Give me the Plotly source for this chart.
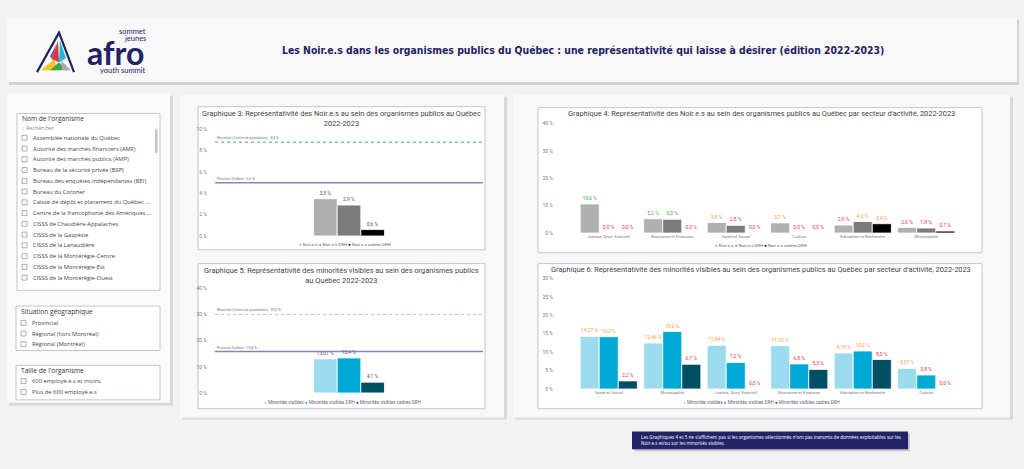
import plotly.graph_objects as go

W, H = 1024, 469
FONT = "Roboto"
UI_FONT = "Open Sans"

# ---------- data ----------
G3_SERIES = ["Noir.e.s", "Noir.e.s DRH", "Noir.e.s cadres DRH"]
G3_VALUES = [3.5, 2.9, 0.6]
NOIRS_MTL = 8.8
NOIRS_PROV = 5.0

G5_SERIES = ["Minorités visibles", "Minorités visibles DRH", "Minorités visibles cadres DRH"]
G5_VALUES = [13.01, 13.4, 4.1]
MV_MTL = 30.0
MV_PROV = 15.8

G4_SECTORS = ["Justice, Droit, Exécutif", "Économie et Finances", "Santé et Social",
              "Culture", "Éducation et Recherche", "Municipalité"]
G4_NOIRS = [10.6, 5.2, 3.8, 3.7, 2.9, 2.0]
G4_NOIRS_DRH = [0.0, 5.0, 2.8, 0.0, 4.2, 1.8]
G4_NOIRS_CADRES = [0.0, 0.0, 0.0, 0.0, 3.4, 0.7]

G6_SECTORS = ["Santé et Social", "Municipalité", "Justice, Droit, Exécutif",
              "Économie et Finances", "Éducation et Recherche", "Culture"]
G6_MV = [14.27, 12.46, 11.84, 11.76, 9.79, 5.57]
G6_MV_DRH = [14.2, 15.6, 7.2, 6.8, 10.3, 3.8]
G6_MV_CADRES = [2.2, 6.7, 0.0, 5.3, 8.0, 0.0]

ORGANISMES = [
    "Assemblée nationale du Québec",
    "Autorité des marchés financiers (AMF)",
    "Autorité des marchés publics (AMP)",
    "Bureau de la sécurité privée (BSP)",
    "Bureau des enquêtes indépendantes (BEI)",
    "Bureau du Coroner",
    "Caisse de dépôt et placement du Québec ...",
    "Centre de la francophonie des Amériques ...",
    "CISSS de Chaudière-Appalaches",
    "CISSS de la Gaspésie",
    "CISSS de la Lanaudière",
    "CISSS de la Montérégie-Centre",
    "CISSS de la Montérégie-Est",
    "CISSS de la Montérégie-Ouest",
]
SITUATIONS = ["Provincial", "Régional (hors Montréal)", "Régional (Montréal)"]
TAILLES = ["600 employé.e.s et moins", "Plus de 600 employé.e.s"]

TITLE = ("Les Noir.e.s dans les organismes publics du Québec : une représentativité "
         "qui laisse à désirer (édition 2022-2023)")
NOTE = ("Les Graphiques 4 et 5 ne s'affichent pas si les organismes sélectionnés n'ont pas "
        "transmis de données exploitables sur les<br>Noir.e.s et/ou sur les minorités visibles.")

# ---------- colours ----------
GREYS = ["#b0b0b0", "#7b7b7b", "#000000"]
BLUES = ["#9cdbee", "#00a9d3", "#004f66"]
GREEN, ORANGE, RED = "#3db54a", "#ff9a3d", "#e8354f"
NAVY = "#1f2263"


def px(x):
    return x / W


def py(y):
    return 1 - y / H


shapes = []
annotations = []


def rect(x0, y0, x1, y1, fill, line=None, width=1):
    shapes.append(dict(type="rect", xref="paper", yref="paper",
                       x0=px(x0), x1=px(x1), y0=py(y1), y1=py(y0),
                       fillcolor=fill, layer="below",
                       line=dict(color=line or fill, width=width if line else 0)))


def poly(points, fill):
    path = "M " + " L ".join(f"{px(x)},{py(y)}" for x, y in points) + " Z"
    shapes.append(dict(type="path", xref="paper", yref="paper", path=path,
                       fillcolor=fill, line=dict(width=0)))


def text(x, y, s, size, color="#333", xanchor="left", yanchor="middle", family=FONT, align="left"):
    annotations.append(dict(xref="paper", yref="paper", x=px(x), y=py(y), text=s,
                            showarrow=False, xanchor=xanchor, yanchor=yanchor, align=align,
                            font=dict(size=size, color=color, family=family)))


def pct(v, d=1):
    return f"{v:.{d}f}".replace(".", ",") + " %"


def level_colors(values, green_at, orange_at):
    return [GREEN if v >= green_at else ORANGE if v >= orange_at else RED for v in values]


# ---------- panels ----------
rect(9, 17, 1019, 83, "#d2d2d2")
rect(7, 15, 1017, 80, "#f8f8f8")
rect(9, 94, 173, 408, "#d8d8d8")
rect(7, 92, 170, 405, "#fafafa")
rect(182, 95, 507, 422, "#d8d8d8")
rect(180, 93, 504, 420, "#f8f8f8")
rect(515, 95, 1013, 422, "#d8d8d8")
rect(513, 93, 1010, 420, "#f8f8f8")

BOX = "#c3c3dc"
rect(198, 105, 485, 250, "white", BOX)
rect(198, 264, 485, 411, "white", BOX)
rect(538, 106, 982, 253, "white", BOX)
rect(538, 264, 982, 411, "white", BOX)

# note box
rect(634, 436, 910, 454, "#c8c8c8")
rect(632, 434, 908, 452, "#232367")
text(639, 443, NOTE, 4.6, "white", family=UI_FONT)

# ---------- logo + title ----------
poly([(41, 68), (54, 57), (58, 68)], "#f7c325")
poly([(50, 68), (59, 60), (67, 68)], "#3aa64a")
poly([(61, 58), (71, 68), (62, 68)], "#a7aab2")
poly([(58, 38), (52, 57), (59, 60)], "#e3343c")
poly([(60, 38), (59, 60), (66, 56)], "#20b9d8")
poly([(57, 41), (50, 54), (52, 57)], "#7a4aa0")
shapes.append(dict(type="path", xref="paper", yref="paper",
                   path=f"M {px(37)},{py(70)} L {px(59)},{py(30)} L {px(74)},{py(70)}",
                   line=dict(color=NAVY, width=2.2)))
text(115.5, 50.5, "<b>afro</b>", 32, NAVY, xanchor="center", family="Lato")
text(148, 29, "sommet", 7.5, NAVY, xanchor="right", family="Lato")
text(148, 35.5, "jeunes", 7.5, NAVY, xanchor="right", family="Lato")
text(148, 68, "youth summit", 7.5, NAVY, xanchor="right", family="Lato")
text(583, 48, f"<b>{TITLE}</b>", 10.4, NAVY, xanchor="center",
     family="Liberation Sans Narrow, DejaVu Sans Condensed, Roboto")

# ---------- filter slicers ----------
CHK = "#8a8a8a"


def checkbox(x, y):
    shapes.append(dict(type="rect", xref="paper", yref="paper",
                       x0=px(x), x1=px(x + 5), y0=py(y + 2.5), y1=py(y - 2.5),
                       fillcolor="white", line=dict(color=CHK, width=0.7)))


rect(17, 112, 160, 291, "white", BOX)
text(20, 117.5, "Nom de l'organisme", 6.6, "#333", family=UI_FONT)
text(20, 126.5, "⌕ Rechercher", 5.2, "#888", family=UI_FONT)
rect(155, 128, 157.5, 152, "#c4c4c4")
for i, name in enumerate(ORGANISMES):
    yy = 136.5 + i * 10.9
    checkbox(22, yy)
    text(31, yy, name, 5.8, "#444", family=UI_FONT)

rect(16, 307, 160, 352, "white", BOX)
text(19, 313, "Situation géographique", 6.6, "#333", family=UI_FONT)
for i, name in enumerate(SITUATIONS):
    yy = 324 + i * 10.8
    checkbox(21, yy)
    text(30, yy, name, 5.8, "#444", family=UI_FONT)

rect(16, 367, 160, 402, "white", BOX)
text(19, 372.5, "Taille de l'organisme", 6.6, "#333", family=UI_FONT)
for i, name in enumerate(TAILLES):
    yy = 383 + i * 11
    checkbox(21, yy)
    text(30, yy, name, 5.8, "#444", family=UI_FONT)

# ---------- charts ----------
fig = go.Figure()


def add_bars(x, values, name, color, xa, ya, digits, label_colors):
    fig.add_trace(go.Bar(
        x=x, y=values, name=name, xaxis=xa, yaxis=ya,
        marker=dict(color=color, line=dict(color="white", width=0.8)),
        texttemplate="%{y:." + str(digits) + "f} %", textposition="outside",
        textfont=dict(size=5, color=label_colors, family=FONT),
        constraintext="none", cliponaxis=False, showlegend=False, hoverinfo="skip",
    ))


# Graphique 3
for name, v, c in zip(G3_SERIES, G3_VALUES, GREYS):
    add_bars(["Total"], [v], name, c, "x", "y", 1, "#555")
# Graphique 4
for vals, name, c in zip([G4_NOIRS, G4_NOIRS_DRH, G4_NOIRS_CADRES], G3_SERIES, GREYS):
    add_bars(G4_SECTORS, vals, name, c, "x2", "y2", 1, level_colors(vals, NOIRS_PROV, 3.0))
# Graphique 5
for name, v, c, d in zip(G5_SERIES, G5_VALUES, BLUES, [2, 1, 1]):
    add_bars(["Total"], [v], name, c, "x3", "y3", d, "#555")
# Graphique 6
for vals, name, c, d, oa in zip([G6_MV, G6_MV_DRH, G6_MV_CADRES], G5_SERIES, BLUES,
                                [2, 1, 1], [5.0, 9.0, 9.0]):
    add_bars(G6_SECTORS, vals, name, c, "x4", "y4", d, level_colors(vals, MV_PROV, oa))

# reference lines
for xd, ya, mtl, prov, mtl_col in [("x domain", "y", NOIRS_MTL, NOIRS_PROV, "#3cb54c"),
                                   ("x3 domain", "y3", MV_MTL, MV_PROV, "#a3dca6")]:
    shapes.append(dict(type="line", xref=xd, yref=ya, x0=0, x1=1, y0=mtl, y1=mtl,
                       line=dict(color=mtl_col, width=1, dash="dot")))
    shapes.append(dict(type="line", xref=xd, yref=ya, x0=0, x1=1, y0=prov, y1=prov,
                       line=dict(color="#8585b5", width=1.5)))
    annotations.append(dict(xref=xd, yref=ya, x=0, y=mtl, yshift=4, xanchor="left",
                            yanchor="middle", showarrow=False,
                            text=f"Montréal (Centre de population) : {pct(mtl)}",
                            font=dict(size=3.6, color="#777", family=FONT)))
    annotations.append(dict(xref=xd, yref=ya, x=0, y=prov, yshift=4, xanchor="left",
                            yanchor="middle", showarrow=False,
                            text=f"Province Québec : {pct(prov)}",
                            font=dict(size=3.6, color="#777", family=FONT)))

# chart titles
TCOL = "#444"
text(341.5, 105.5, "Graphique 3: Représentativité des Noir.e.s au sein des organismes publics au Québec<br>2022-2023",
     7.4, TCOL, xanchor="center", yanchor="top", align="center")
text(341.5, 264.5, "Graphique 5: Représentativité des minorités visibles au sein des organismes publics<br>au Québec 2022-2023",
     7.4, TCOL, xanchor="center", yanchor="top", align="center")
text(761, 112, "Graphique 4: Représentativité des Noir.e.s au sein des organismes publics au Québec par secteur d'activité, 2022-2023",
     7.4, TCOL, xanchor="center")
text(761, 270, "Graphique 6: Représentativité des minorités visibles au sein des organismes publics au Québec par secteur d'activité, 2022-2023",
     7.4, TCOL, xanchor="center")


def legend_text(names, colors):
    return " ".join(f'<span style="color:{c}">●</span> {n}' for n, c in zip(names, colors))


text(345, 245, legend_text(G3_SERIES, GREYS), 4.4, "#666", xanchor="center")
text(761, 246, legend_text(G3_SERIES, GREYS), 4.4, "#666", xanchor="center")
text(342, 405, legend_text(G5_SERIES, BLUES), 4.6, "#666", xanchor="center")
text(761, 404.5, legend_text(G5_SERIES, BLUES), 4.6, "#666", xanchor="center")

# axes
ytick = dict(showgrid=False, zeroline=False, showline=False, ticksuffix=" %",
             tickfont=dict(size=5, color="#777", family=FONT), ticks="outside",
             tickcolor="rgba(0,0,0,0)", fixedrange=True)
xcat = dict(showgrid=False, zeroline=False, showline=False, ticks="",
            tickfont=dict(size=4.3, color="#777", family=FONT), fixedrange=True)

fig.update_layout(
    width=W, height=H, margin=dict(l=0, r=0, t=0, b=0),
    paper_bgcolor="#f2f2f2", plot_bgcolor="rgba(0,0,0,0)",
    separators=", ", barmode="group", bargap=0.1, bargroupgap=0,
    shapes=shapes, annotations=annotations, showlegend=False,
    xaxis=dict(xcat, domain=[px(215), px(483)], anchor="y", range=[-1.7, 1.7], showticklabels=False),
    yaxis=dict(ytick, domain=[py(236), py(128)], anchor="x", range=[0, 10], dtick=2, ticklen=6),
    xaxis2=dict(xcat, domain=[px(577), px(958)], anchor="y2"),
    yaxis2=dict(ytick, domain=[py(233), py(122)], anchor="x2", range=[0, 40], dtick=10, ticklen=22),
    xaxis3=dict(xcat, domain=[px(215), px(483)], anchor="y3", range=[-1.7, 1.7], showticklabels=False),
    yaxis3=dict(ytick, domain=[py(395), py(289)], anchor="x3", range=[0, 40], dtick=10, ticklen=6),
    xaxis4=dict(xcat, domain=[px(577), px(958)], anchor="y4"),
    yaxis4=dict(ytick, domain=[py(391), py(279)], anchor="x4", range=[0, 30], dtick=5, ticklen=22),
)

# the page's default 8px body margin would push the dashboard off its frame
fig.write_html("out.html", config={"displayModeBar": False},
               post_script="document.body.style.margin = '0';")
